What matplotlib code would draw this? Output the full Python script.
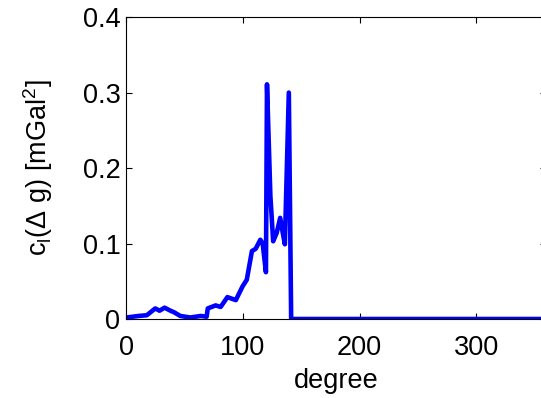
import matplotlib
matplotlib.use('Agg')
import matplotlib.pyplot as plt

# ---------- data ----------
degree = [0.6, 10.6, 17.8, 25, 28.7, 33, 38, 41, 46.5, 55, 64, 69, 70, 76.7, 81,
          86.8, 94, 99.7, 103.4, 107.8, 111, 115, 117, 119.8, 120.7, 123.6, 126,
          129, 132, 134, 136, 139.4, 141.4, 360]
cl = [0.002, 0.004, 0.005, 0.014, 0.011, 0.015, 0.011, 0.009, 0.004, 0.002,
      0.004, 0.003, 0.014, 0.018, 0.016, 0.029, 0.025, 0.043, 0.052, 0.090,
      0.093, 0.105, 0.100, 0.062, 0.311, 0.163, 0.103, 0.114, 0.134, 0.116,
      0.099, 0.300, 0.0, 0.0]

xticks = [0, 100, 200, 300]
yticks = [0, 0.1, 0.2, 0.3, 0.4]
ytick_labels = ['0', '0.1', '0.2', '0.3', '0.4']

# ---------- plot ----------
plt.rcParams['font.family'] = ['Liberation Sans', 'DejaVu Sans']
plt.rcParams['mathtext.fontset'] = 'custom'
plt.rcParams['mathtext.rm'] = 'Liberation Sans'
plt.rcParams['mathtext.it'] = 'Liberation Sans:italic'

fig = plt.figure(figsize=(5.41, 3.98), dpi=100)
ax = fig.add_axes([0.233, 0.1985, 0.777, 0.7585])

ax.plot(degree, cl, color='#0000ff', linewidth=3.3)

ax.set_xlim(0, 360)
ax.set_ylim(0, 0.4)
ax.set_xticks(xticks)
ax.set_yticks(yticks)
ax.set_yticklabels(ytick_labels)
ax.tick_params(direction='in', top=True, right=True, labelsize=19.5,
               length=4, width=0.8)
ax.tick_params(axis='x', pad=11.5)
ax.tick_params(axis='y', pad=4)
for s in ax.spines.values():
    s.set_linewidth(0.8)

ax.set_xlabel('degree', fontsize=19.5, labelpad=5)
ax.set_ylabel(r'c$_{\rm l}$(Δ g) [mGal$^{\rm 2}$]', fontsize=19.5, labelpad=20)

fig.savefig('out.png', dpi=100)
